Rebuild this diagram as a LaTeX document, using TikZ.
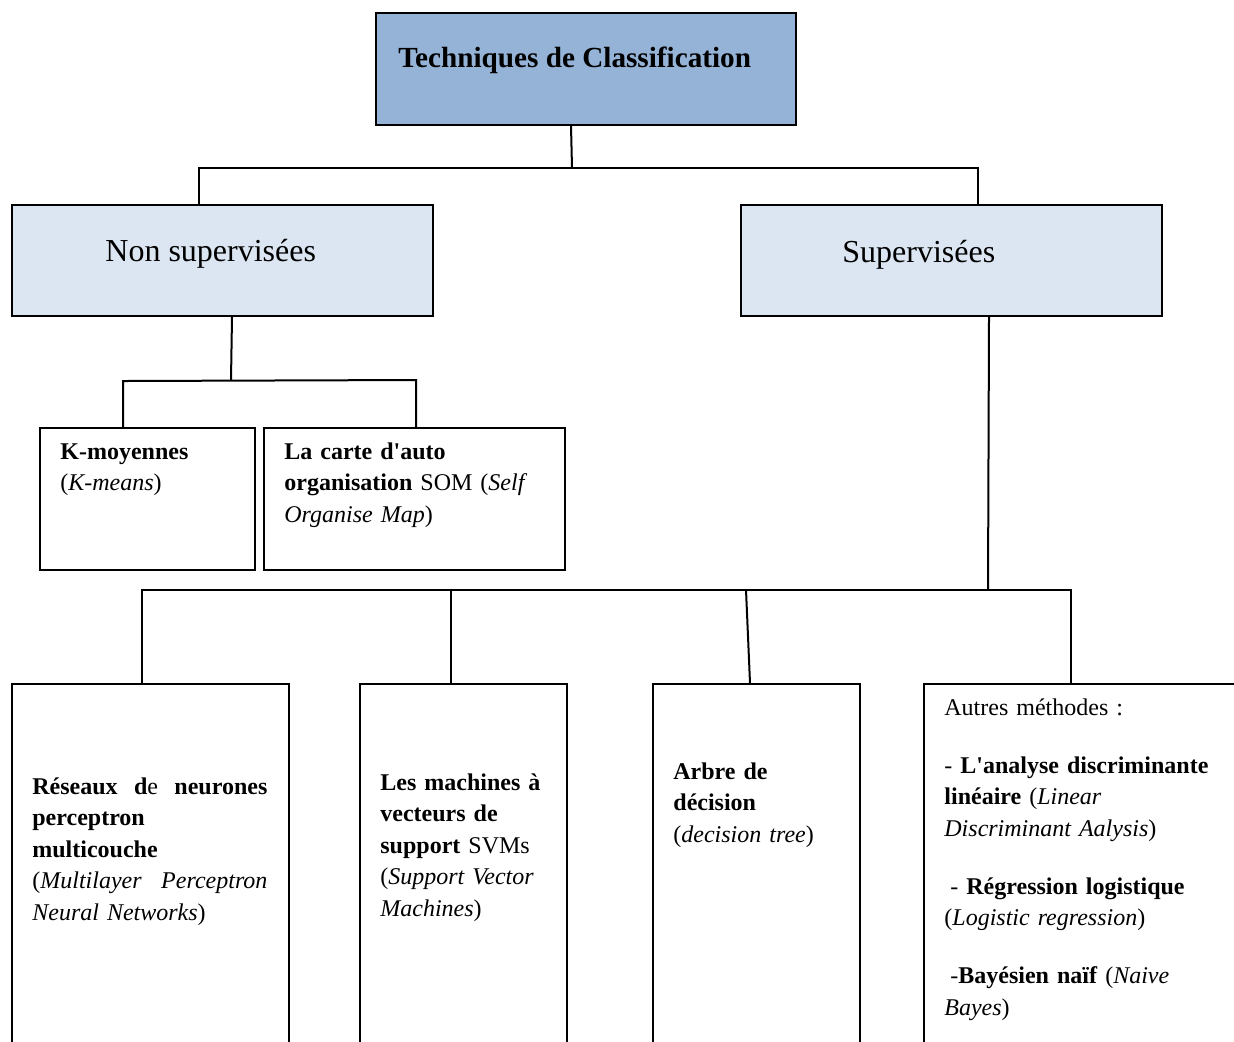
\documentclass[tikz,border=0pt]{standalone}
\usepackage{fontspec}
\setmainfont{Liberation Serif}
\definecolor{rootfill}{HTML}{95B3D7}
\definecolor{branchfill}{HTML}{DCE6F2}
% a line spread over a fixed width, words pushed apart evenly
\newcommand{\spreadline}[2]{\leavevmode\hbox to #1{#2}}
\begin{document}
\begin{tikzpicture}[x=0.5pt,y=-0.5pt,
  box/.style={draw=black,line width=1pt,rectangle,anchor=north west,inner sep=0pt},
  link/.style={draw=black,line width=1pt},
  lbl/.style={anchor=base west,inner sep=0pt},
  txt/.style={anchor=base west,inner sep=0pt,text width=#1,align=left,
              font=\fontsize{12pt}{15.8pt}\selectfont},
  txt/.default=160pt]
\useasboundingbox (0,0) rectangle (1234,1041);
\clip (0,0) rectangle (1234,1041);

% ---- boxes ----
\node[box,fill=rootfill,minimum width=210pt,minimum height=56pt] (title) at (375,12) {};
\node[box,fill=branchfill,minimum width=210.5pt,minimum height=55.5pt] (nonsup) at (11,204) {};
\node[box,fill=branchfill,minimum width=210.5pt,minimum height=55.5pt] (sup) at (740,204) {};
\node[box,minimum width=107.5pt,minimum height=71pt] (kmoy) at (39,427) {};
\node[box,minimum width=150.5pt,minimum height=71pt] (som) at (263,427) {};
\node[box,minimum width=138.5pt,minimum height=190pt] (b1) at (11,683) {};
\node[box,minimum width=103.5pt,minimum height=190pt] (b2) at (359,683) {};
\node[box,minimum width=103.5pt,minimum height=190pt] (b3) at (652,683) {};
\node[box,minimum width=165pt,minimum height=190pt] (b4) at (923,683) {};

% ---- connectors ----
\coordinate (rootJ) at (572,168);
\coordinate (hL) at (199,168);
\coordinate (hR) at (978,168);
\draw[link] ([xshift=-7.5pt]title.south) -- (rootJ);
\draw[link] (hL |- nonsup.north) -- (hL) -- (hR) -- (hR |- sup.north);

\coordinate (nsJ) at (231,380);
\coordinate (nsL) at (123,381);
\coordinate (nsR) at (416,380);
\draw[link] ([xshift=4.75pt]nonsup.south) -- (nsJ);
\draw[link] (nsL |- kmoy.north) -- (nsL) -- (nsR) -- (nsR |- som.north);

\coordinate (sJ) at (988,590);
\coordinate (sA) at (142,590);
\coordinate (sB) at (451,590);
\coordinate (sC) at (746,590);
\coordinate (sD) at (1071,590);
\draw[link] ([xshift=18.75pt]sup.south) -- (sJ);
\draw[link] (sA |- b1.north) -- (sA) -- (sD) -- (sD |- b4.north);
\draw[link] (sB) -- (sB |- b2.north);
\draw[link] (sC) -- ([xshift=-3.25pt]b3.north);

% ---- labels ----
\node[lbl,font=\fontsize{14.6pt}{17pt}\selectfont\bfseries] (ttitle) at (398,67) {Techniques de Classification};
\node[lbl,font=\fontsize{16pt}{19pt}\selectfont] (tnonsup) at (105,261) {Non supervisées};
\node[lbl,font=\fontsize{16pt}{19pt}\selectfont] (tsup) at (842,262) {Supervisées};

\node[txt] (tkmoy) at (60,459) {\textbf{K-moyennes}\\(\textit{K-means})};
\node[txt] (tsom) at (284,459) {\textbf{La carte d\textquotesingle auto}\\\textbf{organisation} SOM (\textit{Self}\\\textit{Organise Map})};

\node[txt] (tb1) at (32,794) {\spreadline{117.5pt}{\textbf{Réseaux}\hfil\textbf{d}e\hfil\textbf{neurones}}\\
  \textbf{perceptron}\\\textbf{multicouche}\\
  \spreadline{117.5pt}{(\textit{Multilayer}\hfil\textit{Perceptron}}\\
  \textit{Neural Networks})};
\node[txt] (tb2) at (380,790) {\textbf{Les machines à}\\\textbf{vecteurs de}\\\textbf{support} SVMs\\(\textit{Support Vector}\\\textit{Machines})};
\node[txt] (tb3) at (673,779) {\textbf{Arbre de}\\\textbf{décision}\\(\textit{decision tree})};
\node[txt] (tb4) at (944,715) {Autres méthodes :\\[13.2pt]
  - \textbf{L\textquotesingle analyse discriminante}\\\textbf{linéaire} (\textit{Linear}\\\textit{Discriminant Aalysis})\\[13.2pt]
  \hspace*{3pt}- \textbf{Régression logistique}\\(\textit{Logistic regression})\\[13.2pt]
  \hspace*{3pt}-\textbf{Bayésien naïf} (\textit{Naive}\\\textit{Bayes})};
\end{tikzpicture}
\end{document}
